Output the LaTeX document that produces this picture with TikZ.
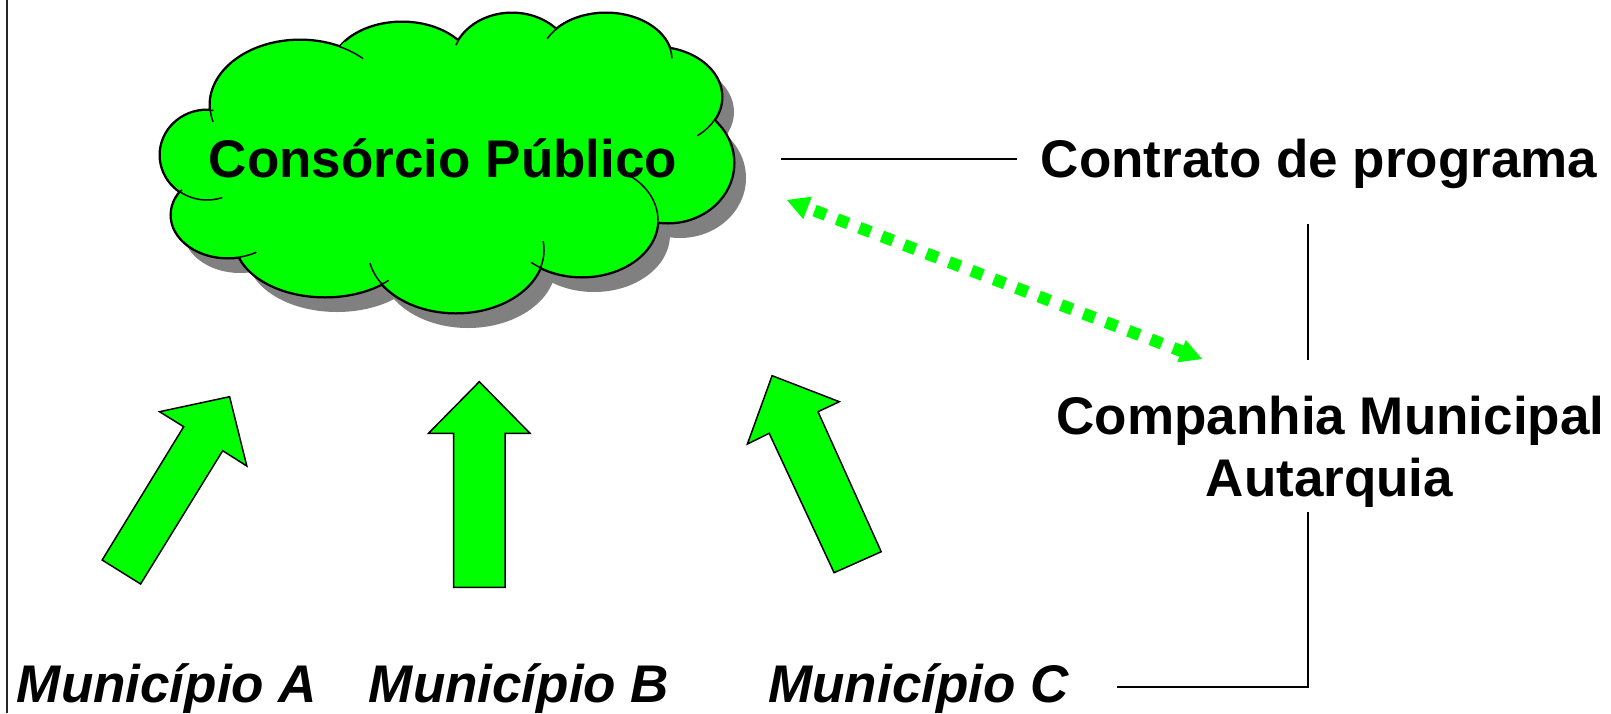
\documentclass[tikz,border=0pt]{standalone}
\usepackage{fontspec}
\setmainfont{Liberation Sans}
\usetikzlibrary{calc}
\definecolor{lgreen}{HTML}{00FF00}
\definecolor{shadowgray}{HTML}{808080}
\newcommand\cloudlobes{%
  (207,155) ellipse [x radius=47, y radius=45]
  (300,105) ellipse [x radius=90, y radius=65]
  (402,72) ellipse [x radius=72, y radius=50]
  (512,63) ellipse [x radius=60, y radius=50]
  (606,60) ellipse [x radius=66, y radius=47]
  (655,97) ellipse [x radius=67, y radius=50]
  (668,163) ellipse [x radius=66, y radius=60]
  (582,220) ellipse [x radius=76, y radius=57]
  (456,250) ellipse [x radius=88, y radius=63]
  (325,240) ellipse [x radius=90, y radius=57]
  (228,215) ellipse [x radius=57, y radius=43]}
\newcommand\lobearc[5]{% center x, center y, rx, ry, {start/end}
  \draw[cloudline] ($(#1,#2)+(#5:#3 and #4)$) arc [start angle=#5, end angle=#5+0, x radius=#3, y radius=#4];}
\newcommand\lobe[6]{% cx, cy, rx, ry, start, end
  \draw[cloudline] ($(#1,#2)+(#5:#3 and #4)$) arc [start angle=#5, end angle=#6, x radius=#3, y radius=#4];}
\tikzset{
  lbl/.style={font=\fontsize{53}{60}\selectfont\bfseries, anchor=base, inner sep=0pt},
  mlbl/.style={font=\fontsize{53}{60}\selectfont\bfseries\itshape, anchor=base, inner sep=0pt},
  conn/.style={line width=2pt, draw=black},
  blockarrow/.style={fill=lgreen, draw=black, line width=1.5pt, line join=miter},
  cloudline/.style={draw=black, line width=1.5pt},
  dotline/.style={draw=lgreen, line width=12pt, dash pattern=on 12pt off 12pt, dash phase=16.5pt},
}
\begin{document}
\begin{tikzpicture}[x=1pt,y=-1pt]
\useasboundingbox (0,0) rectangle (1611,713);
\fill[white] (0,0) rectangle (1611,713);
% left border
\draw[line width=2pt, black!85] (7,0) -- (7,713);
% cloud shadow
\begin{scope}[shift={(12,15)}]
  \fill[shadowgray] \cloudlobes (440,160) ellipse [x radius=230, y radius=105];
\end{scope}
% cloud outline (union) and fill
\draw[line width=3pt, black] \cloudlobes;
\fill[lgreen] \cloudlobes (440,160) ellipse [x radius=230, y radius=105];
% lobe arcs with inner stubs
\lobe{207}{155}{47}{45}{71}{278}
\lobe{300}{105}{90}{65}{165}{314.5}
\lobe{402}{72}{72}{50}{217}{320}
\lobe{512}{63}{60}{50}{201}{316}
\lobe{606}{60}{66}{47}{207}{358}
\lobe{655}{97}{67}{50}{284}{411}
\lobe{668}{163}{66}{60}{316}{458}
\lobe{582}{220}{76}{57}{298}{492}
\lobe{456}{250}{88}{63}{-8}{168}
\lobe{325}{240}{90}{57}{45}{162}
\lobe{228}{215}{57}{43}{60}{216}
\node[lbl] (consorcio) at (443,177) {Consórcio Público};

% block arrows
\draw[blockarrow] (102.2,560) -- (183.7,426.7) -- (159.6,411.7) -- (229.6,396.7) -- (246.8,466) -- (222.7,450.7) -- (140.6,584) -- cycle;
\draw[blockarrow] (453.5,587.3) -- (453.5,433.3) -- (428.5,433.3) -- (479.3,381.7) -- (530,433.3) -- (505.2,433.3) -- (505.2,587.3) -- cycle;
\draw[blockarrow] (772.1,375.7) -- (839.3,401.7) -- (818,411.7) -- (881.2,551.7) -- (834.1,572.7) -- (769.2,433.3) -- (747.4,444) -- cycle;

% labels
\node[lbl] (contrato) at (1319,177) {Contrato de programa};
\node[lbl] (companhia) at (1330.5,434) {Companhia Municipal};
\node[lbl] (autarquia) at (1329.5,496) {Autarquia};
\node[mlbl] (munA) at (167,702) {Município A};
\node[mlbl] (munB) at (519,702) {Município B};
\node[mlbl] (munC) at (918.5,702) {Município C};

% connectors
\coordinate (l1a) at (781,159);
\coordinate (l1b) at (1017,159);
\coordinate (l2a) at (1308,224);
\coordinate (l2b) at (1308,360);
\coordinate (l3a) at (1308,512);
\coordinate (l3b) at (1308,687);
\coordinate (l3c) at (1117,687);
\draw[conn] (l1a) -- (l1b);
\draw[conn] (l2a) -- (l2b);
\draw[conn, line join=miter] (l3a) -- (l3b) -- (l3c);

% dotted double arrow
\coordinate (dA) at (787,200);
\coordinate (dB) at (1202,359);
\coordinate (dAb) at ($(dA)!22pt!(dB)$);
\coordinate (dBb) at ($(dB)!22pt!(dA)$);
\draw[dotline] (dAb) -- (dBb);
\fill[lgreen] (dA) -- ($(dAb)!12pt!90:(dB)$) -- ($(dAb)!12pt!-90:(dB)$) -- cycle;
\fill[lgreen] (dB) -- ($(dBb)!12pt!90:(dA)$) -- ($(dBb)!12pt!-90:(dA)$) -- cycle;
\end{tikzpicture}
\end{document}
